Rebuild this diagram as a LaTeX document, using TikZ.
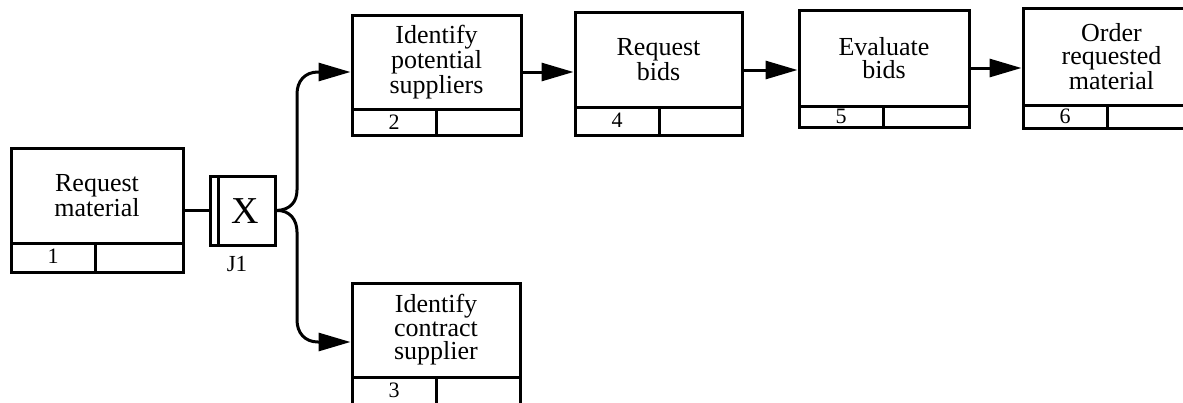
\documentclass[tikz,border=0pt]{standalone}
\usepackage{fontspec}
\setmainfont{Liberation Serif}
\usetikzlibrary{fit,calc,arrows.meta}
\tikzset{
  box/.style={draw, line width=3pt, inner sep=0pt},
  boxline/.style={line width=3pt},
  boxtext/.style={inner sep=0pt, align=center, font=\fontsize{26}{23.5}\selectfont},
  numtext/.style={inner sep=0pt, font=\fontsize{22}{22}\selectfont},
  conn/.style={line width=3pt},
  arr/.style={-{Triangle[length=32pt,width=18pt]}},
}
% #1 name, #2 left, #3 top, #4 divider, #5 bottom, #6 sub divider, #7 right, #8 text, #9 number
\newcommand\procbox[9]{%
  \node[box, fit={(#2,#3) (#7,#5)}] (#1) {};
  \draw[boxline] (#2,#4) -- (#7,#4);
  \draw[boxline] (#6,#4) -- (#6,#5);
  \node[boxtext] (#1t) at ($(#2,#3)!0.5!(#7,#4)$) {#8};
  \pgfmathsetmacro\numy{#4+0.5*min(#5-#4,26)}%
  \node[numtext] (#1n) at ($(#2,\numy)!0.5!(#6,\numy)$) {#9};
}
\begin{document}
\begin{tikzpicture}[x=1pt,y=-1pt]
\clip (0,0) rectangle (1183,402);
\fill[white] (0,0) rectangle (1183,402);
\procbox{b1}{11}{148}{243}{272}{95}{183}{Request\\material}{1}
\procbox{b2}{352}{15}{109}{135}{436}{521}{Identify\\potential\\suppliers}{2}
\procbox{b3}{352}{283}{377}{420}{436}{520}{Identify\\contract\\supplier}{3}
\procbox{b4}{575}{12}{107}{135}{659}{742}{Request\\bids}{4}
\procbox{b5}{799}{10}{106}{127}{883}{969}{Evaluate\\bids}{5}
\procbox{b6}{1023}{8}{105}{128}{1107}{1200}{Order\\requested\\material}{6}
% junction
\node[box, fit={(210,176) (275,245)}] (j1) {};
\draw[boxline] (218,176) -- (218,245);
\node[inner sep=0pt, font=\fontsize{38}{38}\selectfont] (j1x) at (245,211) {X};
\node[inner sep=0pt, font=\fontsize{23}{23}\selectfont] (j1l) at (237,264) {J1};
% connectors
\draw[conn] (b1.east) -- (b1.east -| j1.west);
\draw[conn, arr] (j1.east) .. controls (290,210) and (297,202) .. (297,190) -- (297,94)
   .. controls (297,81) and (305,72) .. (318,72) -- (b2.west |- 0,72);
\draw[conn, arr] (j1.east) .. controls (290,210) and (297,220) .. (297,232) -- (297,320)
   .. controls (297,333) and (305,342) .. (318,342) -- (b3.west |- 0,342);
\draw[conn, arr] (b2.east |- 0,72) -- (b4.west |- 0,72);
\draw[conn, arr] (b4.east |- 0,70) -- (b5.west |- 0,70);
\draw[conn, arr] (b5.east |- 0,68) -- (b6.west |- 0,68);
\end{tikzpicture}
\end{document}
